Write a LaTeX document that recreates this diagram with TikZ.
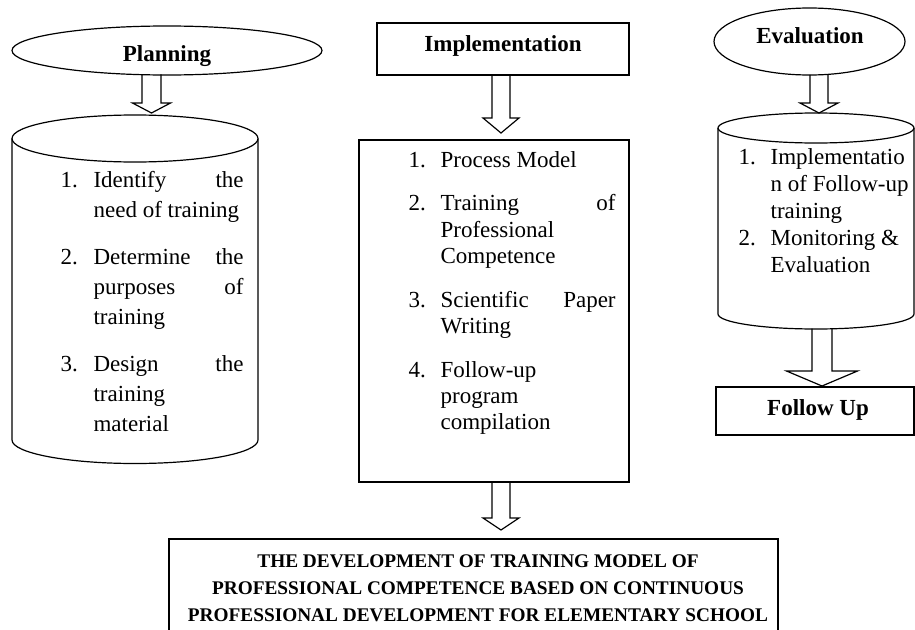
\documentclass[tikz,border=0pt]{standalone}
\usepackage{fontspec}
\setmainfont{Liberation Serif}
\usetikzlibrary{shapes.geometric,calc}
\newcommand{\blockarrow}[5]{%
  \draw[line join=miter] ($(#1)+(-#3,0)$) -- ($(#2)+(-#3,#5)$) -- ($(#2)+(-#4,#5)$) -- (#2)
    -- ($(#2)+(#4,#5)$) -- ($(#2)+(#3,#5)$) -- ($(#1)+(#3,0)$);}
\begin{document}
\begin{tikzpicture}[x=1pt,y=1pt,line width=1.2pt,
  box/.style={draw,rectangle,inner sep=0pt},
  oval/.style={draw,ellipse,inner sep=0pt},
  hd/.style={font=\fontsize{23}{27}\selectfont\bfseries,inner sep=0pt,anchor=base},
  lst/.style={inner sep=0pt,anchor=base west}]
\path[use as bounding box] (0,0) rectangle (915,-629);
\fill[white] (0,0) rectangle (915,-629);
\clip (0,0) rectangle (915,-629);

% ---------- Planning ----------
\node[oval,minimum width=310pt,minimum height=49pt] (plan) at (167,-50.5) {};
\node[hd] (planT) at (167,-61.7) {Planning};
\coordinate (pcyl) at (135,-138.5);
\draw (pcyl) ellipse [x radius=123, y radius=23.5];
\draw (12,-138.5) -- (12,-440) arc[start angle=180,end angle=360,x radius=123,y radius=23.5] -- (258,-138.5);
\coordinate (a1s) at (151.5,-74.3);
\coordinate (a1t) at (151.5,-113);
\blockarrow{a1s}{a1t}{9.5}{19}{10}
\node[lst,font=\fontsize{23}{30}\selectfont] (plist) at (60,-187.7) {%
\begin{tabular}[t]{@{}l@{}l@{}}
\makebox[33pt][l]{1.} & \makebox[150pt][s]{Identify the}\\
 & need of training\\[17pt]
\makebox[33pt][l]{2.} & \makebox[150pt][s]{Determine the}\\
 & \makebox[150pt][s]{purposes of}\\
 & training\\[17pt]
\makebox[33pt][l]{3.} & \makebox[150pt][s]{Design the}\\
 & training\\
 & material
\end{tabular}};

% ---------- Implementation ----------
\node[box,minimum width=252pt,minimum height=52pt] (impl) at (503,-49) {};
\node[hd] (implT) at (503,-51.7) {Implementation};
\node[box,minimum width=270pt,minimum height=342pt] (implbox) at (494,-311) {};
\coordinate (a2s) at (501,-75);
\coordinate (a2t) at (501,-133);
\blockarrow{a2s}{a2t}{9}{18}{15}
\node[lst,font=\fontsize{23}{26.3}\selectfont] (ilist) at (408,-167) {%
\begin{tabular}[t]{@{}l@{}l@{}}
\makebox[32pt][l]{1.} & Process Model\\[17.5pt]
\makebox[32pt][l]{2.} & \makebox[175pt][s]{Training of}\\
 & Professional\\
 & Competence\\[17.5pt]
\makebox[32pt][l]{3.} & \makebox[175pt][s]{Scientific Paper}\\
 & Writing\\[17.5pt]
\makebox[32pt][l]{4.} & Follow-up\\
 & program\\
 & compilation
\end{tabular}};

% ---------- Evaluation ----------
\node[oval,minimum width=191pt,minimum height=67pt] (eval) at (809.5,-41.5) {};
\node[hd] (evalT) at (810,-43.3) {Evaluation};
\coordinate (ecyl) at (816,-128);
\draw (ecyl) ellipse [x radius=98, y radius=15];
\draw (718,-128) -- (718,-314) arc[start angle=180,end angle=360,x radius=98,y radius=15] -- (914,-128);
\coordinate (a3s) at (819,-74.8);
\coordinate (a3t) at (819,-113);
\blockarrow{a3s}{a3t}{9}{19}{10}
\node[lst,font=\fontsize{23}{27}\selectfont] (elist) at (738,-164) {%
\begin{tabular}[t]{@{}l@{}l@{}}
\makebox[32pt][l]{1.} & Implementatio\\
 & n of Follow-up\\
 & training\\
\makebox[32pt][l]{2.} & Monitoring \&\\
 & Evaluation
\end{tabular}};
\node[box,minimum width=198pt,minimum height=48pt] (follow) at (815,-411) {};
\node[hd] (followT) at (818,-415) {Follow Up};
\coordinate (a4s) at (822,-328.6);
\coordinate (a4t) at (822,-386);
\blockarrow{a4s}{a4t}{10}{35.5}{15}

% ---------- Result ----------
\coordinate (a5s) at (501,-482);
\coordinate (a5t) at (501,-530);
\blockarrow{a5s}{a5t}{9}{18}{12}
\node[box,minimum width=609pt,minimum height=111pt] (result) at (473.5,-594.5) {};
\node[inner sep=0pt,anchor=base,font=\fontsize{19.3}{27}\selectfont\bfseries] (resultT) at (478,-567.7) {%
\begin{tabular}[t]{@{}c@{}}
THE DEVELOPMENT OF TRAINING MODEL OF\\
PROFESSIONAL COMPETENCE BASED ON CONTINUOUS\\
PROFESSIONAL DEVELOPMENT FOR ELEMENTARY SCHOOL
\end{tabular}};
\end{tikzpicture}
\end{document}
